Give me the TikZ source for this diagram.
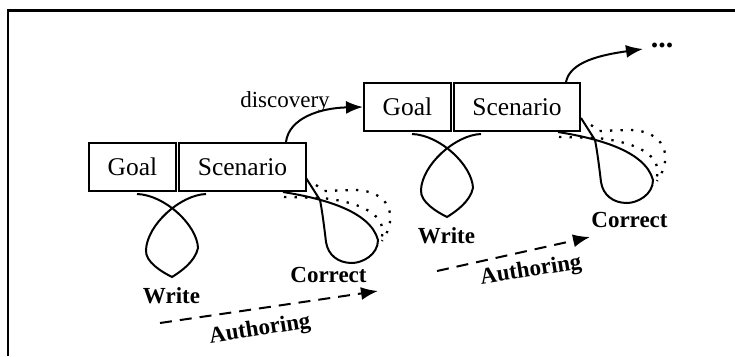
\documentclass[tikz,border=0pt]{standalone}
\usepackage{fontspec}
\setmainfont{Liberation Serif}
\usetikzlibrary{arrows.meta,positioning}

\tikzset{
  box/.style={draw, line width=2pt, inner sep=0pt, minimum height=48pt,
    font=\fontsize{25.5}{30}\selectfont},
  lbl/.style={inner sep=0pt, font=\fontsize{23}{27}\selectfont\bfseries},
  curve/.style={line width=2pt},
  dotline/.style={line width=2.3pt, dash pattern=on 2.3pt off 8.2pt},
  flow/.style={line width=2pt, -{Latex[length=17pt,width=13pt]}},
  authflow/.style={line width=2pt, dash pattern=on 12pt off 8pt,
    -{Latex[length=17pt,width=13pt]}},
  % write loop under the two boxes, correct loop at the scenario corner
  editloops/.pic={
    \draw[curve] (137,194) .. controls (165,195) and (197,225) .. (198,248)
      .. controls (195,262) and (180,272) .. (172,277)
      .. controls (162,272) and (145,262) .. (146,250)
      .. controls (147,225) and (180,195) .. (206,194);
    \draw[curve] (283,192) .. controls (320,198) and (370,210) .. (378,240)
      .. controls (378,255) and (362,263) .. (352,263)
      .. controls (338,263) and (328,255) .. (326,242)
      .. controls (324,225) and (322,210) .. (320,200) -- (306,178);
    % earlier tries of the correction
    \draw[dotline] (316,185) -- (324,191) -- (354,190)
      .. controls (388,190) and (400,215) .. (382,241);
    \draw[dotline] (284,197) -- (322,198)
      .. controls (360,202) and (392,215) .. (380,243);
  }
}

\begin{document}
\begin{tikzpicture}[x=1pt,y=-1pt]
  \useasboundingbox (0,0) rectangle (735,356);
  % frame
  \draw[line width=2.2pt] (8,356) -- (8,10.5) -- (735,10.5);

  % first stage
  \node[box, minimum width=87pt] (goal1) at (132.5,167) {Goal};
  \node[box, minimum width=127pt, right=1pt of goal1] (scen1) {Scenario};
  \pic at (0,0) {editloops};
  \node[lbl] (write1) at (171.5,296) {Write};
  \node[lbl] (correct1) at (328.5,275) {Correct};
  \coordinate (auth1s) at (160,323);
  \coordinate (auth1e) at (378,291);
  \draw[authflow] (auth1s) -- (auth1e);
  \node[lbl, rotate=9] (auth1) at (260,330) {Authoring};

  % second stage
  \node[box, minimum width=87pt] (goal2) at (407.5,107) {Goal};
  \node[box, minimum width=126pt, right=1pt of goal2] (scen2) {Scenario};
  \pic at (275,-60) {editloops};
  \node[lbl] (write2) at (446.5,236) {Write};
  \node[lbl] (correct2) at (629.5,220) {Correct};
  \coordinate (auth2s) at (437,271);
  \coordinate (auth2e) at (590,237);
  \draw[authflow] (auth2s) -- (auth2e);
  \node[lbl, rotate=9] (auth2) at (531,271) {Authoring};

  % discovery leads to the next stage
  \draw[flow] ([xshift=43.5pt]scen1.north) .. controls (289,118) and (320,108) .. (goal2.west);
  \node[inner sep=0pt, font=\fontsize{23}{27}\selectfont] (disc) at (285,102) {discovery};

  % and so on
  \coordinate (more) at (643,49);
  \draw[flow] ([xshift=49pt]scen2.north) .. controls (570,62) and (600,55) .. (more);
  \node[inner sep=0pt, font=\fontsize{30}{34}\selectfont\bfseries] (dots) at (662,45) {...};
\end{tikzpicture}
\end{document}
